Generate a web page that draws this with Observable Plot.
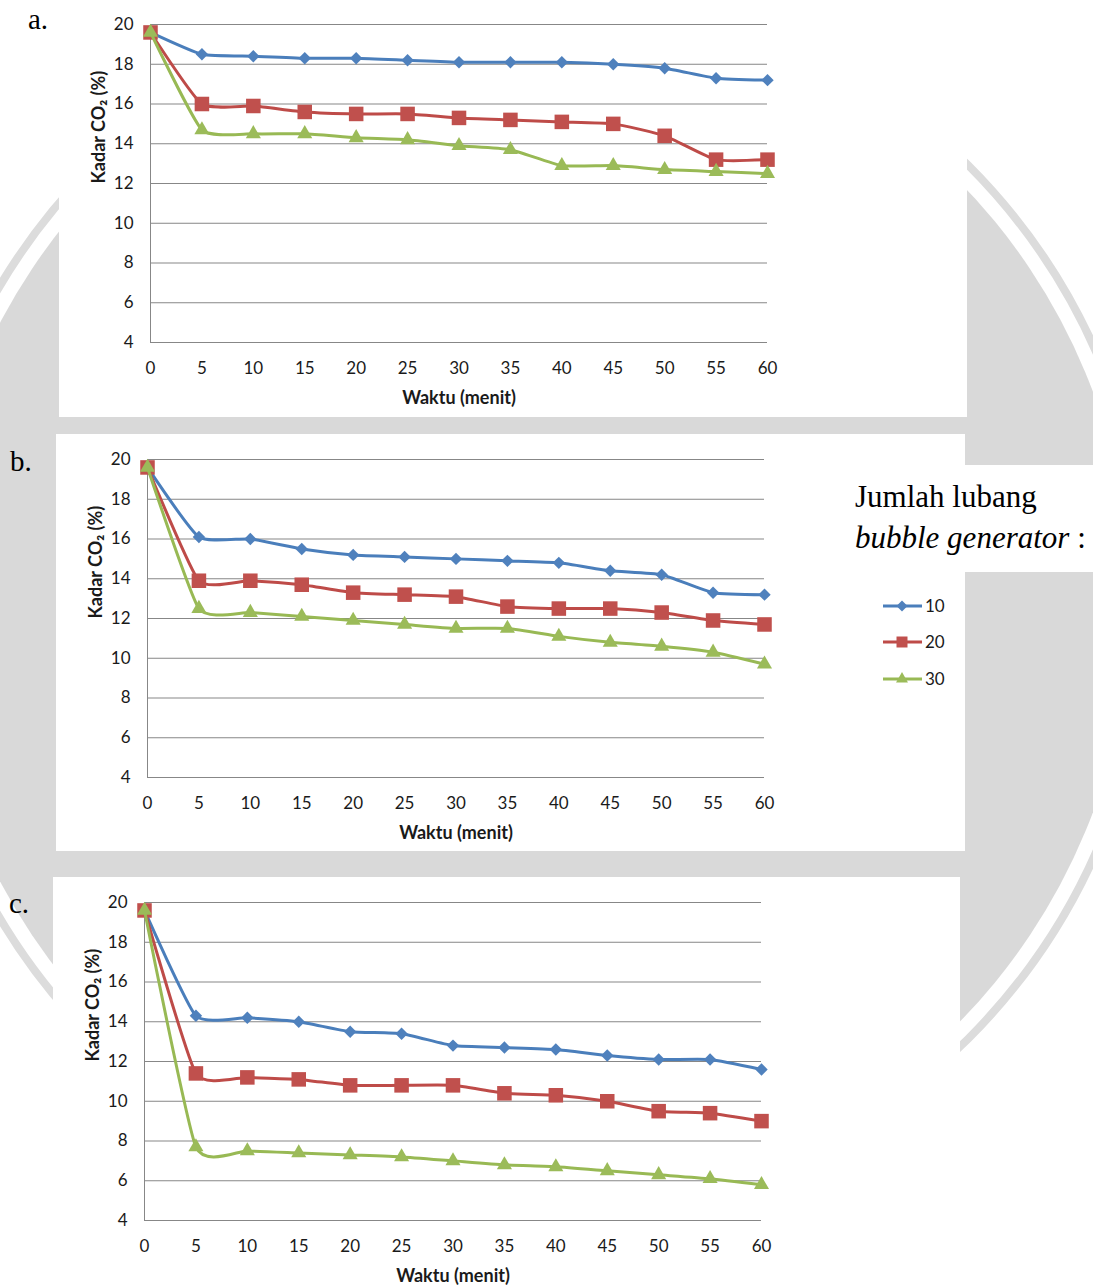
<!DOCTYPE html>
<html>
<head>
<meta charset="utf-8">
<script src="https://cdn.jsdelivr.net/npm/d3@7"></script>
<script src="https://cdn.jsdelivr.net/npm/@observablehq/plot@0.6"></script>
<style>
  html, body { margin: 0; padding: 0; }
  body { width: 1093px; height: 1285px; position: relative; overflow: hidden; background: #fff; }
  #bg, #overlay { position: absolute; left: 0; top: 0; }
  #overlay { pointer-events: none; }
  .panel { position: absolute; background: #fff; overflow: hidden; }
  .panel svg { display: block; }
</style>
</head>
<body>
<svg id="bg" width="1093" height="1285"></svg>
<div id="pa" class="panel"></div>
<div id="pb" class="panel"></div>
<div id="pc" class="panel"></div>
<svg id="overlay" width="1093" height="1285"></svg>
<script>
// Sampling times (minutes) and CO2 level (%) for each bubble-generator hole count
const minutes = [0, 5, 10, 15, 20, 25, 30, 35, 40, 45, 50, 55, 60];
const yTicks = [4, 6, 8, 10, 12, 14, 16, 18, 20];
const holeCounts = ["10", "20", "30"];

const panelA_10 = [19.6, 18.5, 18.4, 18.3, 18.3, 18.2, 18.1, 18.1, 18.1, 18.0, 17.8, 17.3, 17.2];
const panelA_20 = [19.6, 16.0, 15.9, 15.6, 15.5, 15.5, 15.3, 15.2, 15.1, 15.0, 14.4, 13.2, 13.2];
const panelA_30 = [19.6, 14.7, 14.5, 14.5, 14.3, 14.2, 13.9, 13.7, 12.9, 12.9, 12.7, 12.6, 12.5];

const panelB_10 = [19.6, 16.1, 16.0, 15.5, 15.2, 15.1, 15.0, 14.9, 14.8, 14.4, 14.2, 13.3, 13.2];
const panelB_20 = [19.6, 13.9, 13.9, 13.7, 13.3, 13.2, 13.1, 12.6, 12.5, 12.5, 12.3, 11.9, 11.7];
const panelB_30 = [19.6, 12.5, 12.3, 12.1, 11.9, 11.7, 11.5, 11.5, 11.1, 10.8, 10.6, 10.3, 9.7];

const panelC_10 = [19.6, 14.3, 14.2, 14.0, 13.5, 13.4, 12.8, 12.7, 12.6, 12.3, 12.1, 12.1, 11.6];
const panelC_20 = [19.6, 11.4, 11.2, 11.1, 10.8, 10.8, 10.8, 10.4, 10.3, 10.0, 9.5, 9.4, 9.0];
const panelC_30 = [19.6, 7.7, 7.5, 7.4, 7.3, 7.2, 7.0, 6.8, 6.7, 6.5, 6.3, 6.1, 5.8];

const panelLabels = ["a.", "b.", "c."];
const legendTitle = ["Jumlah lubang", "bubble generator"];

// Series styling (line colour, marker fill, marker symbol, marker radius)
const seriesStyle = {
  "10": {line: "#4A7EBB", fill: "#4F81BD", symbol: "diamond2", r: 5.6},
  "20": {line: "#BE4B48", fill: "#C0504D", symbol: "square", r: 8.2},
  "30": {line: "#98B954", fill: "#9BBB59", symbol: "triangle", r: 5.6}
};

function toRows(s10, s20, s30) {
  const rows = [];
  [s10, s20, s30].forEach((vals, i) => {
    vals.forEach((v, j) => rows.push({minute: minutes[j], co2: v, holes: holeCounts[i]}));
  });
  return rows;
}

// ---------- background: grey seal disc with its outer ring ----------
(function drawBackground() {
  const bg = d3.select("#bg");
  bg.append("rect").attr("width", 1093).attr("height", 1285).attr("fill", "#fff");
  bg.append("circle").attr("cx", 531).attr("cy", 602).attr("r", 618)
    .attr("fill", "none").attr("stroke", "#dcdcdc").attr("stroke-width", 8);
  bg.append("circle").attr("cx", 531).attr("cy", 602).attr("r", 600).attr("fill", "#d9d9d9");
})();

// ---------- chart panels ----------
function drawPanel(id, rows, box) {
  const pw = 617, ph = 318;
  const marks = [
    Plot.gridY(yTicks, {stroke: "#878787", strokeOpacity: 1, strokeWidth: 1}),
    Plot.ruleX([0], {stroke: "#878787", strokeWidth: 1})
  ];
  for (const h of holeCounts) {
    const s = seriesStyle[h];
    const data = rows.filter(d => d.holes === h);
    marks.push(Plot.line(data, {x: "minute", y: "co2", stroke: s.line, strokeWidth: 3, curve: "cardinal", tension: 0.5}));
    marks.push(Plot.dot(data, {x: "minute", y: "co2", symbol: s.symbol, fill: s.fill, r: s.r, stroke: "none"}));
  }
  marks.push(Plot.text(["Waktu (menit)"], {frameAnchor: "bottom", dy: 61, fontWeight: "bold", fontSize: 18}));
  marks.push(Plot.text(["Kadar CO\u2082 (%)"], {frameAnchor: "left", dx: -51, rotate: -90, fontWeight: "bold", fontSize: 18}));

  const chart = Plot.plot({
    width: box.w,
    height: box.h,
    marginLeft: box.ml,
    marginRight: box.w - box.ml - pw,
    marginTop: box.mt,
    marginBottom: box.h - box.mt - ph,
    style: {fontFamily: "Lato", fontSize: "17px", color: "#1a1a1a", background: "#fff", overflow: "visible"},
    x: {domain: [0, 60], ticks: minutes, tickSize: 0, tickPadding: 19, label: null},
    y: {domain: [4, 20], ticks: yTicks, tickSize: 0, tickPadding: 17, label: null},
    marks
  });
  const el = document.getElementById(id);
  el.style.left = box.x + "px";
  el.style.top = box.y + "px";
  el.style.width = box.w + "px";
  el.style.height = box.h + "px";
  el.appendChild(chart);
}

drawPanel("pa", toRows(panelA_10, panelA_20, panelA_30), {x: 59, y: 0, w: 908, h: 417, ml: 91, mt: 24});
drawPanel("pb", toRows(panelB_10, panelB_20, panelB_30), {x: 56, y: 434, w: 909, h: 417, ml: 91, mt: 25});
drawPanel("pc", toRows(panelC_10, panelC_20, panelC_30), {x: 53, y: 877, w: 907, h: 408, ml: 91, mt: 25});

// ---------- panel letters, legend title and legend ----------
(function drawOverlay() {
  const ov = d3.select("#overlay");
  const serif = "'Liberation Serif', 'Times New Roman', serif";
  const tagPos = [[28, 29], [10, 471], [9, 913]];
  panelLabels.forEach((t, i) => {
    ov.append("text").attr("x", tagPos[i][0]).attr("y", tagPos[i][1])
      .attr("font-family", serif).attr("font-size", 29).attr("fill", "#000").text(t);
  });

  ov.append("rect").attr("x", 965).attr("y", 465).attr("width", 128).attr("height", 107).attr("fill", "#fff");
  ov.append("text").attr("x", 855).attr("y", 507)
    .attr("font-family", serif).attr("font-size", 31).attr("fill", "#000").text(legendTitle[0]);
  const t2 = ov.append("text").attr("x", 855).attr("y", 548)
    .attr("font-family", serif).attr("font-size", 31).attr("fill", "#000");
  t2.append("tspan").attr("font-style", "italic").text(legendTitle[1]);
  t2.append("tspan").text(" :");

  const legendY = [606, 642, 679];
  const symbolFor = {diamond2: [d3.symbolDiamond2, 77], square: [d3.symbolSquare, 121], triangle: [d3.symbolTriangle, 62]};
  holeCounts.forEach((h, i) => {
    const s = seriesStyle[h];
    const y = legendY[i];
    ov.append("line").attr("x1", 883).attr("x2", 922).attr("y1", y).attr("y2", y)
      .attr("stroke", s.line).attr("stroke-width", 3);
    const [sym, size] = symbolFor[s.symbol];
    ov.append("path").attr("transform", `translate(902,${y})`)
      .attr("d", d3.symbol(sym, size)()).attr("fill", s.fill);
    ov.append("text").attr("x", 925).attr("y", y).attr("dy", "0.35em")
      .attr("font-family", "Lato").attr("font-size", 17).attr("fill", "#1a1a1a").text(h);
  });
})();
</script>
</body>
</html>
